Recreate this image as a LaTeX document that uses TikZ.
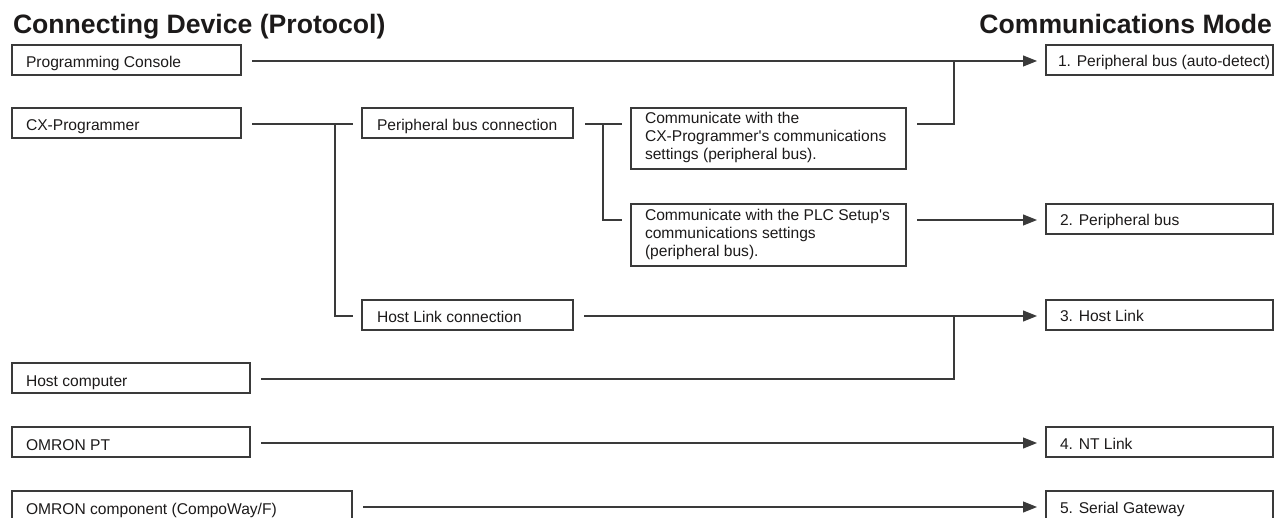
\documentclass[tikz,border=0pt]{standalone}
\usepackage{fontspec}
\setmainfont{Liberation Sans}
\usetikzlibrary{arrows.meta}
\definecolor{ink}{HTML}{1C1A1A}
\definecolor{wirec}{HTML}{3A3A3A}
\begin{document}
\begin{tikzpicture}[x=1pt,y=-1pt,
  box/.style={draw=wirec, line width=1.1pt, rectangle, anchor=north west,
    minimum height=30pt, inner sep=0pt, outer sep=0pt},
  txt/.style={anchor=base west, inner sep=0pt, outer sep=0pt,
    font=\fontsize{15.6}{18}\selectfont, text=ink},
  mtxt/.style={anchor=north west, inner sep=0pt, outer sep=0pt, align=left,
    font=\fontsize{15.6}{18}\selectfont, text=ink},
  title/.style={inner sep=0pt, outer sep=0pt,
    font=\fontsize{26.6}{30}\selectfont\bfseries, text=ink},
  wire/.style={draw=wirec, line width=1.1pt},
  arr/.style={wire, -{Triangle[length=14pt,width=11pt]}}]
\clip (0,0) rectangle (1276,518);
% titles
\node[title, anchor=base west] (tl) at (13,34) {Connecting Device (Protocol)};
\node[title, anchor=base east] (tr) at (1272,34) {Communications Mode};
% left column
\node[box, minimum width=229pt] (pc) at (12,45) {};
\node[txt] (pct) at ([xshift=14pt,yshift=-23pt]pc.north west) {Programming Console};
\node[box, minimum width=229pt] (cx) at (12,108) {};
\node[txt] (cxt) at ([xshift=14pt,yshift=-23pt]cx.north west) {CX-Programmer};
\node[box, minimum width=238pt] (hc) at (12,363) {};
\node[txt] (hct) at ([xshift=14pt,yshift=-23pt]hc.north west) {Host computer};
\node[box, minimum width=238pt] (pt) at (12,427) {};
\node[txt] (ptt) at ([xshift=14pt,yshift=-23pt]pt.north west) {OMRON PT};
\node[box, minimum width=340pt] (oc) at (12,491) {};
\node[txt] (oct) at ([xshift=14pt,yshift=-23pt]oc.north west) {OMRON component (CompoWay/F)};
% middle column
\node[box, minimum width=211pt] (pbc) at (362,108) {};
\node[txt] (pbct) at ([xshift=15pt,yshift=-23pt]pbc.north west) {Peripheral bus connection};
\node[box, minimum width=211pt] (hlc) at (362,300) {};
\node[txt] (hlct) at ([xshift=15pt,yshift=-23pt]hlc.north west) {Host Link connection};
% communicate boxes
\node[box, minimum width=275pt, minimum height=61pt] (cm1) at (631,108) {};
\node[mtxt] (cm1t) at ([xshift=14pt,yshift=-4.6pt]cm1.north west)
  {Communicate with the\\CX-Programmer\textquotesingle s communications\\settings (peripheral bus).};
\node[box, minimum width=275pt, minimum height=62pt] (cm2) at (631,204) {};
\node[mtxt] (cm2t) at ([xshift=14pt,yshift=-5.6pt]cm2.north west)
  {Communicate with the PLC Setup\textquotesingle s\\communications settings\\(peripheral bus).};
% right column
\node[box, minimum width=227pt] (m1) at (1046,45) {};
\node[txt] (m1t) at ([xshift=12pt,yshift=-22pt]m1.north west) {1. Peripheral bus (auto-detect)};
\node[box, minimum width=227pt] (m2) at (1046,204) {};
\node[txt] (m2t) at ([xshift=14pt,yshift=-22pt]m2.north west) {2. Peripheral bus};
\node[box, minimum width=227pt] (m3) at (1046,300) {};
\node[txt] (m3t) at ([xshift=14pt,yshift=-22pt]m3.north west) {3. Host Link};
\node[box, minimum width=227pt] (m4) at (1046,427) {};
\node[txt] (m4t) at ([xshift=14pt,yshift=-22pt]m4.north west) {4. NT Link};
\node[box, minimum width=227pt] (m5) at (1046,491) {};
\node[txt] (m5t) at ([xshift=14pt,yshift=-22pt]m5.north west) {5. Serial Gateway};
% junctions
\coordinate (j1) at (335,124);
\coordinate (j2) at (603,124);
\coordinate (j3) at (954,61);
\coordinate (j4) at (954,316);
% connectors
\draw[arr] ([xshift=11pt,yshift=-1pt]pc.east) -- ([xshift=-9pt,yshift=-1pt]m1.west);
\draw[wire] ([xshift=11pt,yshift=-1pt]cx.east) -- ([xshift=-9pt,yshift=-1pt]pbc.west);
\draw[wire] (j1) |- ([xshift=-9pt,yshift=-1pt]hlc.west);
\draw[wire] ([xshift=12pt,yshift=-1pt]pbc.east) -- ([xshift=-9pt,yshift=-16pt]cm1.north west);
\draw[wire] (j2) |- ([xshift=-9pt,yshift=-16pt]cm2.north west);
\draw[wire] ([xshift=11pt,yshift=-16pt]cm1.north east) -| (j3);
\draw[arr] ([xshift=11pt,yshift=-16pt]cm2.north east) -- ([xshift=-9pt,yshift=-1pt]m2.west);
\draw[arr] ([xshift=11pt,yshift=-1pt]hlc.east) -- ([xshift=-9pt,yshift=-1pt]m3.west);
\draw[wire] ([xshift=11pt,yshift=-1pt]hc.east) -| (j4);
\draw[arr] ([xshift=11pt,yshift=-1pt]pt.east) -- ([xshift=-9pt,yshift=-1pt]m4.west);
\draw[arr] ([xshift=11pt,yshift=-1pt]oc.east) -- ([xshift=-9pt,yshift=-1pt]m5.west);
\end{tikzpicture}
\end{document}
